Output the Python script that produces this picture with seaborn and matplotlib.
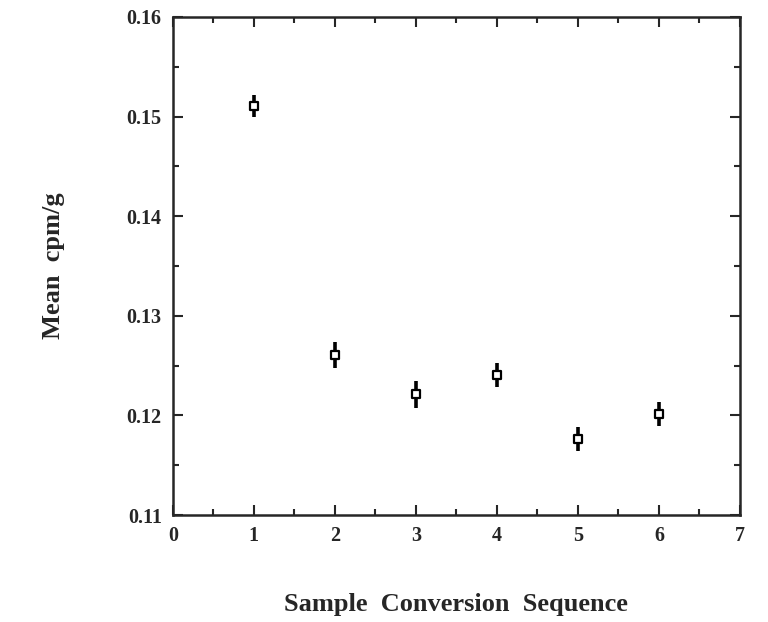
import matplotlib
matplotlib.use("Agg")
import matplotlib.pyplot as plt
import seaborn as sns
import pandas as pd
from matplotlib.ticker import MultipleLocator, FormatStrFormatter

sequence = [1, 2, 3, 4, 5, 6]
mean_cpm = [0.1511, 0.1261, 0.1221, 0.1241, 0.1176, 0.1201]
err = [0.0011, 0.0013, 0.0014, 0.0012, 0.0012, 0.0012]

df = pd.DataFrame({"seq": sequence, "mean": mean_cpm, "err": err})

sns.set_style("ticks")
plt.rcParams['font.family'] = ['Liberation Serif', 'DejaVu Serif']

fig = plt.figure(figsize=(7.68, 6.22), dpi=100)
ax = fig.add_axes([0.225, 0.172, 0.7385, 0.8007])

ax.errorbar(df["seq"], df["mean"], yerr=df["err"], fmt="none", ecolor="black",
            elinewidth=2.6, capsize=0, zorder=2)
sns.scatterplot(data=df, x="seq", y="mean", ax=ax, marker="s", s=32,
                facecolor="white", edgecolor="black", linewidth=1.6, zorder=3)

ax.set_xlim(0, 7)
ax.set_ylim(0.11, 0.16)
ax.xaxis.set_major_locator(MultipleLocator(1))
ax.xaxis.set_minor_locator(MultipleLocator(0.5))
ax.yaxis.set_major_locator(MultipleLocator(0.01))
ax.yaxis.set_minor_locator(MultipleLocator(0.005))
ax.yaxis.set_major_formatter(FormatStrFormatter("%.2f"))

ax.tick_params(which="both", direction="in", top=True, right=True, width=1.5)
ax.tick_params(which="major", length=7, labelsize=14.5, pad=8)
ax.tick_params(which="minor", length=4)
for lab in ax.get_xticklabels() + ax.get_yticklabels():
    lab.set_fontweight("bold")
for s in ax.spines.values():
    s.set_linewidth(1.8)
    s.set_visible(True)

ax.set_xlabel("Sample  Conversion  Sequence", fontsize=19, fontweight="bold", labelpad=34)
ax.set_ylabel("Mean  cpm/g", fontsize=19, fontweight="bold", labelpad=44)

fig.savefig("out.png", dpi=100)
